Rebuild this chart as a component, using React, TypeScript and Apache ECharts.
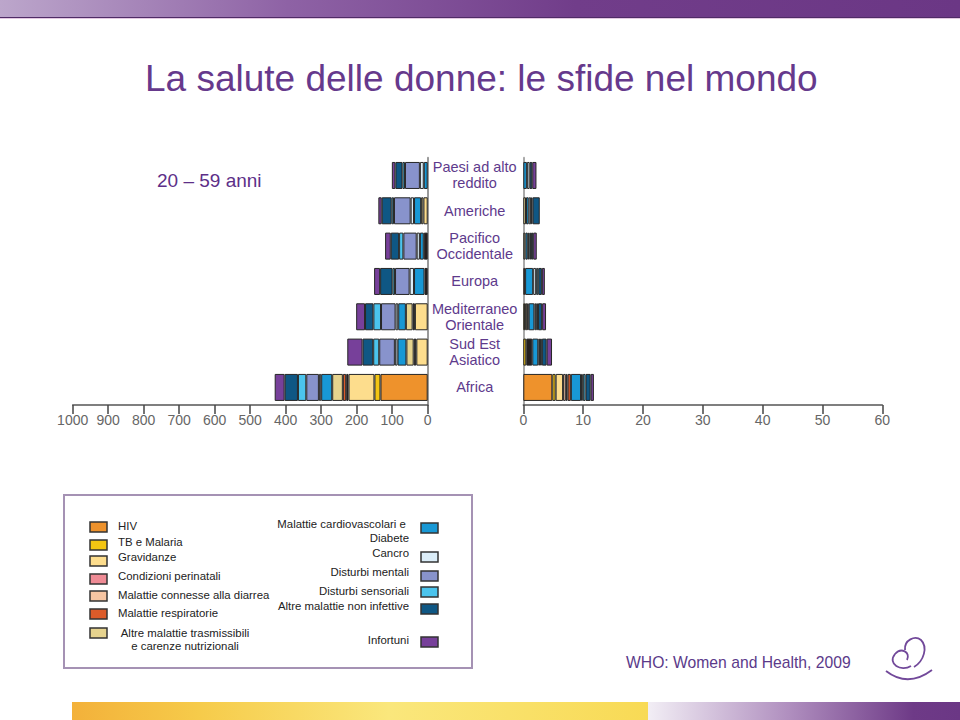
import React, { useEffect, useRef } from "react";
import * as echarts from "echarts";

// ---------- DATA ----------
const regions = [
  "Paesi ad alto reddito",
  "Americhe",
  "Pacifico Occidentale",
  "Europa",
  "Mediterraneo Orientale",
  "Sud Est Asiatico",
  "Africa",
];

const causes = [
  "HIV",
  "TB e Malaria",
  "Gravidanze",
  "Condizioni perinatali",
  "Malattie connesse alla diarrea",
  "Altre cause",
  "Malattie respiratorie",
  "Altre malattie trasmissibili e carenze nutrizionali",
  "Malattie cardiovascolari e Diabete",
  "Cancro",
  "Disturbi mentali",
  "Disturbi sensoriali",
  "Altre malattie non infettive",
  "Infortuni",
];

// left panel (scale 0 - 1000), order of regions
const hivLeft = [0, 0, 0, 0, 0, 0, 133];
const tbLeft = [0, 0, 0, 0, 0, 0, 17];
const gravLeft = [0, 12, 0, 0, 36, 32, 73];
const perinLeft = [0, 0, 0, 0, 0, 0, 0];
const diarLeft = [0, 0, 0, 0, 0, 0, 0];
const altroLeft = [0, 0, 11, 9, 6.5, 7.5, 6.5];
const respLeft = [0, 0, 0, 0, 0, 0, 9.5];
const trasmLeft = [0, 6.5, 0, 0, 19, 20.5, 30];
const cardioLeft = [11, 20, 11, 29.5, 21.5, 25, 31];
const cancroLeft = [11, 9.5, 9, 12.5, 7.5, 7.5, 6.5];
const mentaliLeft = [42, 47, 37.5, 41, 41, 44, 35.5];
const sensLeft = [7, 6.5, 12, 7, 21.5, 17, 23.5];
const nonInfLeft = [20, 28, 23.5, 35, 23.5, 30, 37.5];
const infortLeft = [10, 9.5, 16, 17, 25, 43, 28];

// right panel (scale 0 - 60)
const hivRight = [0, 0, 0, 0, 0, 0, 4.85];
const tbRight = [0, 0, 0, 0, 0.3, 0.5, 0.55];
const gravRight = [0, 0, 0, 0, 0.35, 0, 1.25];
const perinRight = [0, 0, 0, 0, 0, 0, 0];
const diarRight = [0, 0, 0, 0, 0, 0, 0.45];
const altroRight = [0, 0, 0, 0, 0.25, 1.0, 0.3];
const respRight = [0, 0, 0, 0.3, 0, 0, 0.55];
const trasmRight = [0, 0.45, 0.35, 0, 0, 0, 0];
const cardioRight = [0.6, 0.45, 0.4, 1.35, 0.95, 1.0, 1.7];
const cancroRight = [0.45, 0.4, 0.25, 0.5, 0.3, 0.3, 0.3];
const mentaliRight = [0, 0, 0, 0, 0, 0, 0];
const sensRight = [0, 0.25, 0.3, 0.35, 0.3, 0.3, 0.45];
const nonInfRight = [0.45, 1.2, 0.35, 0.6, 0.7, 0.8, 0.85];
const infortRight = [0.7, 0, 0.6, 0.5, 0.65, 0.9, 0.55];

const leftTicks = [0, 1000, 100];
const rightTicks = [0, 60, 10];

// legend labels
const legendLeftLabels = [
  "HIV",
  "TB e Malaria",
  "Gravidanze",
  "Condizioni perinatali",
  "Malattie connesse alla diarrea",
  "Malattie respiratorie",
  "Altre malattie trasmissibili\ne carenze nutrizionali",
];
const legendRightLabels = [
  "Malattie cardiovascolari e \nDiabete",
  "Cancro",
  "Disturbi mentali",
  "Disturbi sensoriali",
  "Altre malattie non infettive",
  "Infortuni",
];

// ---------- STYLE ----------
const palette = [
  "#ee922c", // HIV
  "#f3c512", // TB
  "#fddd8d", // Gravidanze
  "#ef8b95", // perinatali
  "#f6c5a2", // diarrea
  "#231f20", // altre cause
  "#dc5b2a", // respiratorie
  "#e6d38e", // altre trasmissibili
  "#1898d5", // cardio
  "#dbedf8", // cancro
  "#8893cc", // mentali
  "#4bc4ed", // sensoriali
  "#0f5784", // altre non infettive
  "#77409a", // infortuni
];
const legendLeftIdx = [0, 1, 2, 3, 4, 6, 7];
const legendRightIdx = [8, 9, 10, 11, 12, 13];

const FONT = '"Liberation Sans", Arial, Helvetica, sans-serif';
const PURPLE = "#66398c";

const logoD =
  "M886 671 Q908 688 932 670 M911 666 C901 672 887 664 895 654 C901 647 911 652 907 660 M905 650 C904 640 915 635 921 640 C928 647 924 661 914 667";
echarts.graphic.registerShape("logo", echarts.graphic.extendPath(logoD, {}));

function splitLabel(v: string) {
  const w = v.split(" ");
  if (w.length < 2) return v;
  return w.slice(0, -1).join(" ") + "\n" + w[w.length - 1];
}

export default function App() {
  const ref = useRef<HTMLDivElement>(null);

  useEffect(() => {
    if (!ref.current) return;
    const chart = echarts.init(ref.current, undefined, { renderer: "svg" });

    const leftData = [
      hivLeft, tbLeft, gravLeft, perinLeft, diarLeft, altroLeft, respLeft,
      trasmLeft, cardioLeft, cancroLeft, mentaliLeft, sensLeft, nonInfLeft, infortLeft,
    ];
    const rightData = [
      hivRight, tbRight, gravRight, perinRight, diarRight, altroRight, respRight,
      trasmRight, cardioRight, cancroRight, mentaliRight, sensRight, nonInfRight, infortRight,
    ];

    const mk = (arr: number[][], side: number) =>
      causes.map((name, i) => ({
        type: "bar",
        name,
        stack: side === 0 ? "left" : "right",
        xAxisIndex: side,
        yAxisIndex: side,
        barWidth: 27,
        data: arr[i].map((v) => (v === 0 ? null : v)),
        itemStyle: { color: palette[i], borderColor: "#262626", borderWidth: 1 },
        emphasis: { disabled: true },
      }));

    const axisCommon = {
      type: "value",
      axisLine: { show: true, onZero: false, lineStyle: { color: "#555", width: 1.5 } },
      axisTick: { show: true, length: 9, lineStyle: { color: "#444", width: 1.5 } },
      axisLabel: {
        color: "#666",
        fontSize: 14,
        margin: 8,
        fontFamily: FONT,
        formatter: (v: number) => String(v),
      },
      splitLine: { show: false },
    };

    // legend graphics
    const legendEls: any[] = [];
    legendEls.push({
      type: "rect",
      shape: { x: 64, y: 495, width: 408, height: 173 },
      style: { fill: "none", stroke: "#a592b4", lineWidth: 2 },
    });
    const lSwY = [527, 545, 561, 579, 596, 614, 633];
    const lTxY = [526, 542, 557, 576, 595, 613, 633];
    legendLeftIdx.forEach((ci, k) => {
      legendEls.push({
        type: "rect",
        shape: { x: 90, y: lSwY[k] - 5, width: 17, height: 10 },
        style: { fill: palette[ci], stroke: "#333", lineWidth: 1.5 },
      });
      const multi = legendLeftLabels[k].includes("\n");
      legendEls.push({
        type: "text",
        x: multi ? 185 : 118,
        y: lTxY[k] - 6.5,
        style: {
          text: legendLeftLabels[k],
          fill: "#222",
          fontSize: 11.4,
          fontFamily: FONT,
          lineHeight: 13,
          align: multi ? "center" : "left",
          verticalAlign: "top",
        },
      });
    });
    const rSwY = [528, 557, 576, 592, 609, 642];
    const rTxY = [524, 553, 572, 591, 606, 640];
    legendRightIdx.forEach((ci, k) => {
      legendEls.push({
        type: "rect",
        shape: { x: 421, y: rSwY[k] - 5, width: 17, height: 10 },
        style: { fill: palette[ci], stroke: "#333", lineWidth: 1.5 },
      });
      legendEls.push({
        type: "text",
        x: 409,
        y: rTxY[k] - 7,
        style: {
          text: legendRightLabels[k],
          fill: "#222",
          fontSize: 11.4,
          fontFamily: FONT,
          lineHeight: 14,
          align: "right",
          verticalAlign: "top",
        },
      });
    });

    const option: any = {
      animation: false,
      backgroundColor: "#ffffff",
      title: {
        text: "La salute delle donne: le sfide nel mondo",
        left: 140,
        top: 55,
        textStyle: { fontSize: 37, color: PURPLE, fontWeight: "normal", fontFamily: FONT },
      },
      grid: [
        { left: 72.7, top: 157.8, width: 355, height: 247.3 },
        { left: 523.3, top: 157.8, width: 359, height: 247.3 },
      ],
      xAxis: [
        { ...axisCommon, gridIndex: 0, min: leftTicks[0], max: leftTicks[1], interval: leftTicks[2], inverse: true },
        { ...axisCommon, gridIndex: 1, min: rightTicks[0], max: rightTicks[1], interval: rightTicks[2] },
      ],
      yAxis: [
        {
          gridIndex: 0,
          type: "category",
          data: regions,
          inverse: true,
          position: "right",
          axisLine: { show: true, onZero: false, lineStyle: { color: "#9a9a9a", width: 2 } },
          axisTick: { show: false },
          axisLabel: {
            margin: 47,
            align: "center",
            color: "#5e3a8c",
            fontSize: 14.5,
            lineHeight: 16,
            fontFamily: FONT,
            formatter: splitLabel,
          },
        },
        {
          gridIndex: 1,
          type: "category",
          data: regions,
          inverse: true,
          axisLine: { show: true, onZero: false, lineStyle: { color: "#aaaaaa", width: 2 } },
          axisTick: { show: false },
          axisLabel: { show: false },
        },
      ],
      series: [...mk(leftData, 0), ...mk(rightData, 1)],
      graphic: [
        {
          type: "rect",
          shape: { x: 0, y: 0, width: 960, height: 17 },
          style: {
            fill: new echarts.graphic.LinearGradient(0, 0, 1, 0, [
              { offset: 0, color: "#bca6cb" },
              { offset: 0.3, color: "#8e62a5" },
              { offset: 0.6, color: "#713d8a" },
              { offset: 1, color: "#6b3785" },
            ]),
          },
        },
        { type: "line", shape: { x1: 0, y1: 17.5, x2: 960, y2: 17.5 }, style: { stroke: "#4f2b66", lineWidth: 1 } },
        { type: "line", shape: { x1: 0, y1: 18.5, x2: 960, y2: 18.5 }, style: { stroke: "#e3c8e2", lineWidth: 1 } },
        {
          type: "rect",
          shape: { x: 72, y: 702, width: 576, height: 18 },
          style: {
            fill: new echarts.graphic.LinearGradient(0, 0, 1, 0, [
              { offset: 0, color: "#f3b13a" },
              { offset: 0.22, color: "#f6cb4a" },
              { offset: 0.55, color: "#fae77c" },
              { offset: 1, color: "#f8da55" },
            ]),
          },
        },
        {
          type: "rect",
          shape: { x: 648, y: 702, width: 312, height: 18 },
          style: {
            fill: new echarts.graphic.LinearGradient(0, 0, 1, 0, [
              { offset: 0, color: "#f2eef5" },
              { offset: 0.45, color: "#b08fbf" },
              { offset: 0.85, color: "#6e3a87" },
              { offset: 1, color: "#6b3785" },
            ]),
          },
        },
        {
          type: "text",
          x: 157,
          y: 180,
          style: {
            text: "20 – 59 anni",
            fill: "#5d2f88",
            fontSize: 19,
            fontFamily: FONT,
            align: "left",
            verticalAlign: "middle",
          },
        },
        {
          type: "text",
          x: 626,
          y: 662,
          style: {
            text: "WHO: Women and Health, 2009",
            fill: "#5b3a8a",
            fontSize: 15.7,
            fontFamily: FONT,
            align: "left",
            verticalAlign: "middle",
          },
        },
        {
          type: "logo",
          x: 0,
          y: 0,
          scaleX: 1,
          scaleY: 1,
          style: { fill: "none", stroke: "#72499a", lineWidth: 1.8 },
        },
        ...legendEls,
      ],
    };

    chart.setOption(option);
    return () => chart.dispose();
  }, []);

  return (
    <div
      ref={ref}
      style={{ position: "fixed", left: 0, top: 0, width: 960, height: 720, background: "#fff" }}
    />
  );
}
